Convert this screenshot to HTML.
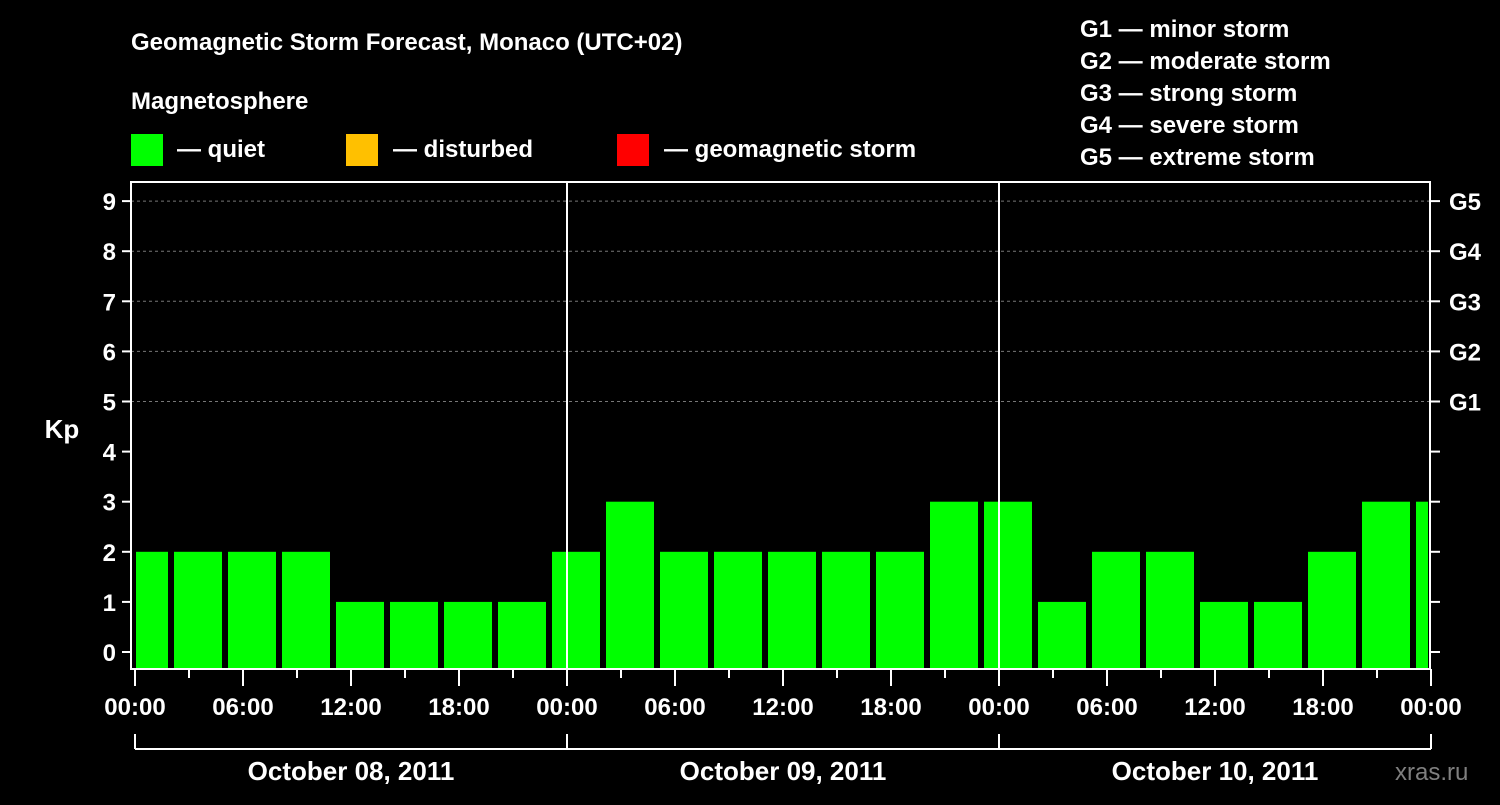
<!DOCTYPE html>
<html><head><meta charset="utf-8"><style>
body{margin:0;background:#000;width:1500px;height:800px;overflow:hidden}
svg text{font-family:"Liberation Sans",sans-serif;font-weight:bold;fill:#fff}
</style></head><body>
<svg id="c" width="1500" height="800">
<text x="131" y="50" font-size="24">Geomagnetic Storm Forecast, Monaco (UTC+02)</text>
<text x="131" y="109" font-size="24">Magnetosphere</text>
<rect x="131" y="134" width="32" height="32" fill="#00ff00"/>
<text x="177" y="157" font-size="24">— quiet</text>
<rect x="346" y="134" width="32" height="32" fill="#ffc000"/>
<text x="393" y="157" font-size="24">— disturbed</text>
<rect x="617" y="134" width="32" height="32" fill="#ff0000"/>
<text x="664" y="157" font-size="24">— geomagnetic storm</text>
<g font-size="24">
<text x="1080" y="37">G1 — minor storm</text>
<text x="1080" y="69">G2 — moderate storm</text>
<text x="1080" y="101">G3 — strong storm</text>
<text x="1080" y="133">G4 — severe storm</text>
<text x="1080" y="165">G5 — extreme storm</text>
</g>
<text x="62" y="438" font-size="26" text-anchor="middle">Kp</text>
<text x="1395" y="780" font-size="24" fill="#888" style="fill:#7f7f7f;font-weight:normal">xras.ru</text>
<g id="g"></g>
</svg>
<script>
const kpValues=[2,2,2,2,1,1,1,1,2,3,2,2,2,2,2,3,3,1,2,2,1,1,2,3,3];
const barStartHours=[-1,2,5,8,11,14,17,20,23,26,29,32,35,38,41,44,47,50,53,56,59,62,65,68,71];
const yTicks=[0,1,2,3,4,5,6,7,8,9];
const gLabels=["G1","G2","G3","G4","G5"];
const xTickLabels=["00:00","06:00","12:00","18:00"];
const dayLabels=["October 08, 2011","October 09, 2011","October 10, 2011"];
const NS="http://www.w3.org/2000/svg";
const g=document.getElementById('g');
const X0=135,PXH=18,TOTALH=72,L=131,R=1430,T=182,B=669;
const x=h=>X0+h*PXH;
const y=v=>652-v*50.1;
function mk(t,a,txt){const e=document.createElementNS(NS,t);for(const k in a)e.setAttribute(k,a[k]);if(txt!==undefined)e.textContent=txt;g.appendChild(e);return e;}
// grid
yTicks.forEach(v=>{if(v>=5){const e=mk('line',{x1:L,x2:R,y1:y(v),y2:y(v),stroke:'#777','stroke-dasharray':'3,3'});

}});
// bars
kpValues.forEach((v,i)=>{const h=barStartHours[i];let x1=x(h)+3,x2=x(h+3)-3;x1=Math.max(x1,L+5);x2=Math.min(x2,R-2);
const col=v>=5?'#ff0000':(v>=4?'#ffc000':'#00ff00');
const e=mk('rect',{x:x1,y:y(v),width:x2-x1,height:B-y(v),fill:col});

});
// frame
const fr=mk('rect',{x:L,y:T,width:R-L,height:B-T,fill:'none',stroke:'#fff','stroke-width':2});


[1,2].forEach(d=>{const e=mk('line',{x1:x(d*24),x2:x(d*24),y1:T,y2:B,stroke:'#fff','stroke-width':2});

});
// y ticks
yTicks.forEach(v=>{mk('line',{x1:122,x2:L,y1:y(v),y2:y(v),stroke:'#fff','stroke-width':2});
mk('line',{x1:R,x2:1440,y1:y(v),y2:y(v),stroke:'#fff','stroke-width':2});
const t=mk('text',{x:116,y:y(v)+9,'font-size':24,'text-anchor':'end'},String(v));

});
gLabels.forEach((s,i)=>{const t=mk('text',{x:1449,y:y(5+i)+9,'font-size':24},s);

});
// x ticks
for(let h=0;h<=TOTALH;h+=3){const major=h%6===0;mk('line',{x1:x(h),x2:x(h),y1:B,y2:major?686:678,stroke:'#fff','stroke-width':2});
if(major){const lab=h%24===0?xTickLabels[0]:xTickLabels[(h%24)/6];
const t=mk('text',{x:x(h),y:715,'font-size':24,'text-anchor':'middle'},lab);

}}
// bracket
mk('line',{x1:x(0),x2:x(72),y1:749,y2:749,stroke:'#fff','stroke-width':2});
for(let d=0;d<=3;d++)mk('line',{x1:x(d*24),x2:x(d*24),y1:734,y2:749,stroke:'#fff','stroke-width':2});
dayLabels.forEach((s,i)=>{const t=mk('text',{x:x(i*24+12),y:780,'font-size':26,'text-anchor':'middle'},s);

});
</script>
</body></html>
